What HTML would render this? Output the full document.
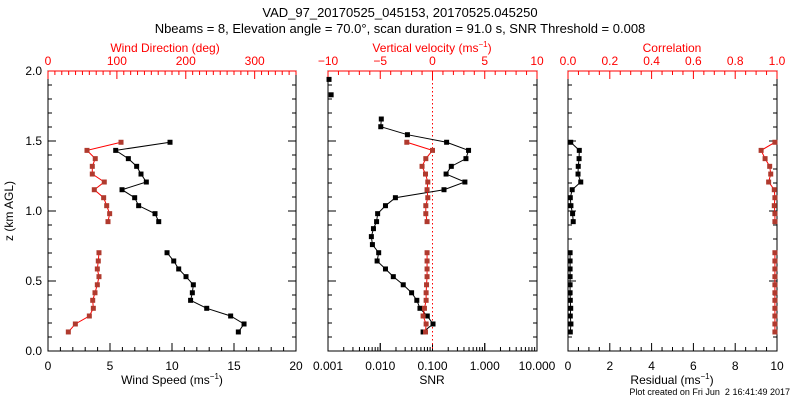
<!DOCTYPE html>
<html><head><meta charset="utf-8"><style>
html,body{margin:0;padding:0;background:#fff;width:800px;height:400px;overflow:hidden}
svg{display:block;font-family:"Liberation Sans",sans-serif}
</style></head><body>
<svg id="c" width="800" height="400" viewBox="0 0 800 400">
<text x="400" y="17" font-size="13" text-anchor="middle">VAD_97_20170525_045153, 20170525.045250</text>
<text x="400" y="33" font-size="13" text-anchor="middle">Nbeams = 8, Elevation angle = 70.0°, scan duration = 91.0 s, SNR Threshold = 0.008</text>
<text x="13" y="211" font-size="12" text-anchor="middle" transform="rotate(-90 13 211)">z (km AGL)</text>
<text x="790" y="395" font-size="9" text-anchor="end" xml:space="preserve">Plot created on Fri Jun  2 16:41:49 2017</text>
<text x="172" y="384" font-size="12" text-anchor="middle">Wind Speed (ms<tspan font-size="8" dy="-5">−1</tspan><tspan dy="5">)</tspan></text>
<text x="432" y="384" font-size="12" text-anchor="middle">SNR</text>
<text x="672" y="384" font-size="12" text-anchor="middle">Residual (ms<tspan font-size="8" dy="-5">−1</tspan><tspan dy="5">)</tspan></text>
<text x="165" y="52" font-size="12" text-anchor="middle" fill="#ff0000">Wind Direction (deg)</text>
<text x="432" y="52" font-size="12" text-anchor="middle" fill="#ff0000">Vertical velocity (ms<tspan font-size="8" dy="-5">−1</tspan><tspan dy="5">)</tspan></text>
<text x="672" y="52" font-size="12" text-anchor="middle" fill="#ff0000">Correlation</text>
</svg>
<script>
// Heights (km)
const zLow=[0.136,0.193,0.25,0.305,0.362,0.416,0.473,0.531,0.586,0.643,0.702];
const zUp=[0.924,0.981,1.038,1.095,1.152,1.207,1.264,1.319,1.374,1.433,1.491];
const zMid=[0.76,0.817,0.874];
const zTop=[1.545,1.602,1.657];
const zIso=[1.83,1.94];
// Wind speed / direction
const speedLow=[15.35,15.81,14.73,12.8,11.5,11.64,11.72,11.13,10.54,10.14,9.6];
const speedUp=[8.93,8.63,7.31,6.99,5.97,7.93,7.5,7.15,6.48,5.46,9.84];
const dirLow=[29.5,39.7,60,65.8,64.9,68.2,71.6,74,71.6,73,74];
const dirUp=[87.1,89.5,85.2,80.8,67.2,81.7,64.3,64.3,68.6,56.6,106];
// SNR (log10) and vertical velocity
const snrLogLow=[-1.18,-0.99,-1.10,-1.24,-1.30,-1.40,-1.56,-1.75,-1.90,-2.06,-2.03];
const snrLogMid=[-2.15,-2.17,-2.13];
const snrLogUp=[-2.07,-2.05,-1.90,-1.71,-0.78,-0.38,-0.74,-0.64,-0.36,-0.31,-0.73];
const snrLogTop=[-1.48,-1.99,-1.98];
const snrLogIso=[-2.94,-2.98];
const wLow=[-0.67,-0.61,-0.9,-0.77,-0.61,-0.61,-0.57,-0.52,-0.52,-0.52,-0.52];
const wUp=[-0.52,-0.64,-0.64,-0.45,-0.52,-0.45,-0.67,-1.0,-0.64,0,-2.46];
// Correlation / residual
const corrLow=[0.99,0.99,0.99,0.99,0.99,0.99,0.99,0.99,0.99,0.99,0.99];
const corrUp=[0.99,0.99,0.987,0.99,0.987,0.96,0.97,0.965,0.943,0.924,0.99];
const resLow=[0.11,0.14,0.11,0.13,0.11,0.1,0.1,0.1,0.1,0.1,0.1];
const resUp=[0.25,0.22,0.14,0.11,0.2,0.61,0.48,0.49,0.53,0.54,0.13];
// Tick labels
const yTickLabels=["0.0","0.5","1.0","1.5","2.0"];
const speedTicks=["0","5","10","15","20"];
const dirTicks=["0","100","200","300"];
const snrTicks=["0.001","0.010","0.100","1.000","10.000"];
const wTicks=["−10","−5","0","5","10"];
const resTicks=["0","2","4","6","8","10"];
const corrTicks=["0.0","0.2","0.4","0.6","0.8","1.0"];

const svg=document.getElementById('c');
const NS='http://www.w3.org/2000/svg';
const T=71,B=351;
function el(tag,attrs,parent){const e=document.createElementNS(NS,tag);for(const k in attrs)e.setAttribute(k,attrs[k]);(parent||svg).appendChild(e);return e;}
const Y=z=>B-(z/2)*(B-T);
function lin(d0,d1,r0,r1){return v=>r0+(v-d0)/(d1-d0)*(r1-r0);}
const RED='#ff0000',BR='#b03a2e';

function frame(L,R,name){
  const g=el('g',{});
  
  
  el('rect',{x:L,y:T,width:R-L,height:B-T,fill:'none',stroke:'#000','stroke-width':1},g);
  for(let i=0;i<=20;i++){const y=Y(i*0.1);const len=i%5==0?8:4;
    el('line',{x1:L,y1:y,x2:L+len,y2:y,stroke:'#000'},g);
    el('line',{x1:R,y1:y,x2:R-len,y2:y,stroke:'#000'},g);}
  el('line',{x1:L,y1:T,x2:R,y2:T,stroke:RED},g);
  return g;
}
function txt(x,y,s,attrs,name){const t=el('text',Object.assign({x:x,y:y,'font-size':12,'text-anchor':'middle'},attrs||{}));t.textContent=s;
  
  
  return t;}
function ticksLinear(g,L,R,d0,d1,major,minor,top,labels,col){
  const s=lin(d0,d1,L,R);const n=Math.round((d1-d0)/minor);
  for(let i=0;i<=n;i++){const v=d0+i*minor;const x=s(v);const isM=Math.abs((v-d0)/major-Math.round((v-d0)/major))<1e-6;const len=isM?8:4;
    if(top)el('line',{x1:x,y1:T,x2:x,y2:T+len,stroke:col},g);else el('line',{x1:x,y1:B,x2:x,y2:B-len,stroke:col},g);}
  labels.forEach((lb,i)=>{const x=s(d0+i*major);txt(x,top?T-6:B+19,lb,{fill:col},top?'top-tick-label':'bottom-tick-label');});
}
function series(xs,zs,sx,lineCol,mkCol,name,noLine){
  const g=el('g',{});
  
  
  const pts=xs.map((v,i)=>[sx(v),Y(zs[i])]);
  if(!noLine)el('polyline',{points:pts.map(p=>p.join(',')).join(' '),fill:'none',stroke:lineCol,'stroke-width':1},g);
  pts.forEach(p=>{const m=el('rect',{x:p[0]-2.5,y:p[1]-2.5,width:5,height:5,fill:mkCol},g);
    
    });
}

yTickLabels.forEach((lb,i)=>txt(42,Y(i*0.5)+4,lb,{'text-anchor':'end'},'y-tick-label'));

// Panel 1
let L1=48,R1=296;
let g1=frame(L1,R1,'wind-panel');
ticksLinear(g1,L1,R1,0,20,5,1,false,speedTicks,'#000');
ticksLinear(g1,L1,R1,0,360,100,10,true,dirTicks,RED);
const sSpeed=lin(0,20,L1,R1),sDir=lin(0,360,L1,R1);
series(speedLow,zLow,sSpeed,'#000','#000','wind-speed-low');
series(speedUp,zUp,sSpeed,'#000','#000','wind-speed-up');
series(dirLow,zLow,sDir,RED,BR,'wind-direction-low');
series(dirUp,zUp,sDir,RED,BR,'wind-direction-up');

// Panel 2
let L2=328,R2=537;
let g2=frame(L2,R2,'snr-panel');
ticksLinear(g2,L2,R2,-10,10,5,1,true,wTicks,RED);
const sLog=lin(-3,1,L2,R2);
for(let d=-3;d<1;d++){for(let k=1;k<=10;k++){const x=sLog(d+Math.log10(k));const len=(k==1||k==10)?8:4;el('line',{x1:x,y1:B,x2:x,y2:B-len,stroke:'#000'},g2);}}
snrTicks.forEach((lb,i)=>txt(sLog(-3+i),B+19,lb,{},'snr-tick-label'));
const sW=lin(-10,10,L2,R2);
el('line',{x1:sW(0),y1:T,x2:sW(0),y2:B,stroke:RED,'stroke-dasharray':'1.5,2.5'},g2);
series(snrLogLow.concat(snrLogMid,snrLogUp,snrLogTop),zLow.concat(zMid,zUp,zTop),sLog,'#000','#000','snr-series');
series(snrLogIso,zIso,sLog,'#000','#000','snr-isolated',true);
series(wLow,zLow,sW,RED,BR,'vertical-velocity-low');
series(wUp,zUp,sW,RED,BR,'vertical-velocity-up');

// Panel 3
let L3=568,R3=777;
let g3=frame(L3,R3,'correlation-panel');
ticksLinear(g3,L3,R3,0,10,2,0.5,false,resTicks,'#000');
ticksLinear(g3,L3,R3,0,1,0.2,0.05,true,corrTicks,RED);
const sRes=lin(0,10,L3,R3),sCor=lin(0,1,L3,R3);
series(resLow,zLow,sRes,'#000','#000','residual-low');
series(resUp,zUp,sRes,'#000','#000','residual-up');
series(corrLow,zLow,sCor,RED,BR,'correlation-low');
series(corrUp,zUp,sCor,RED,BR,'correlation-up');
</script>
</body></html>
